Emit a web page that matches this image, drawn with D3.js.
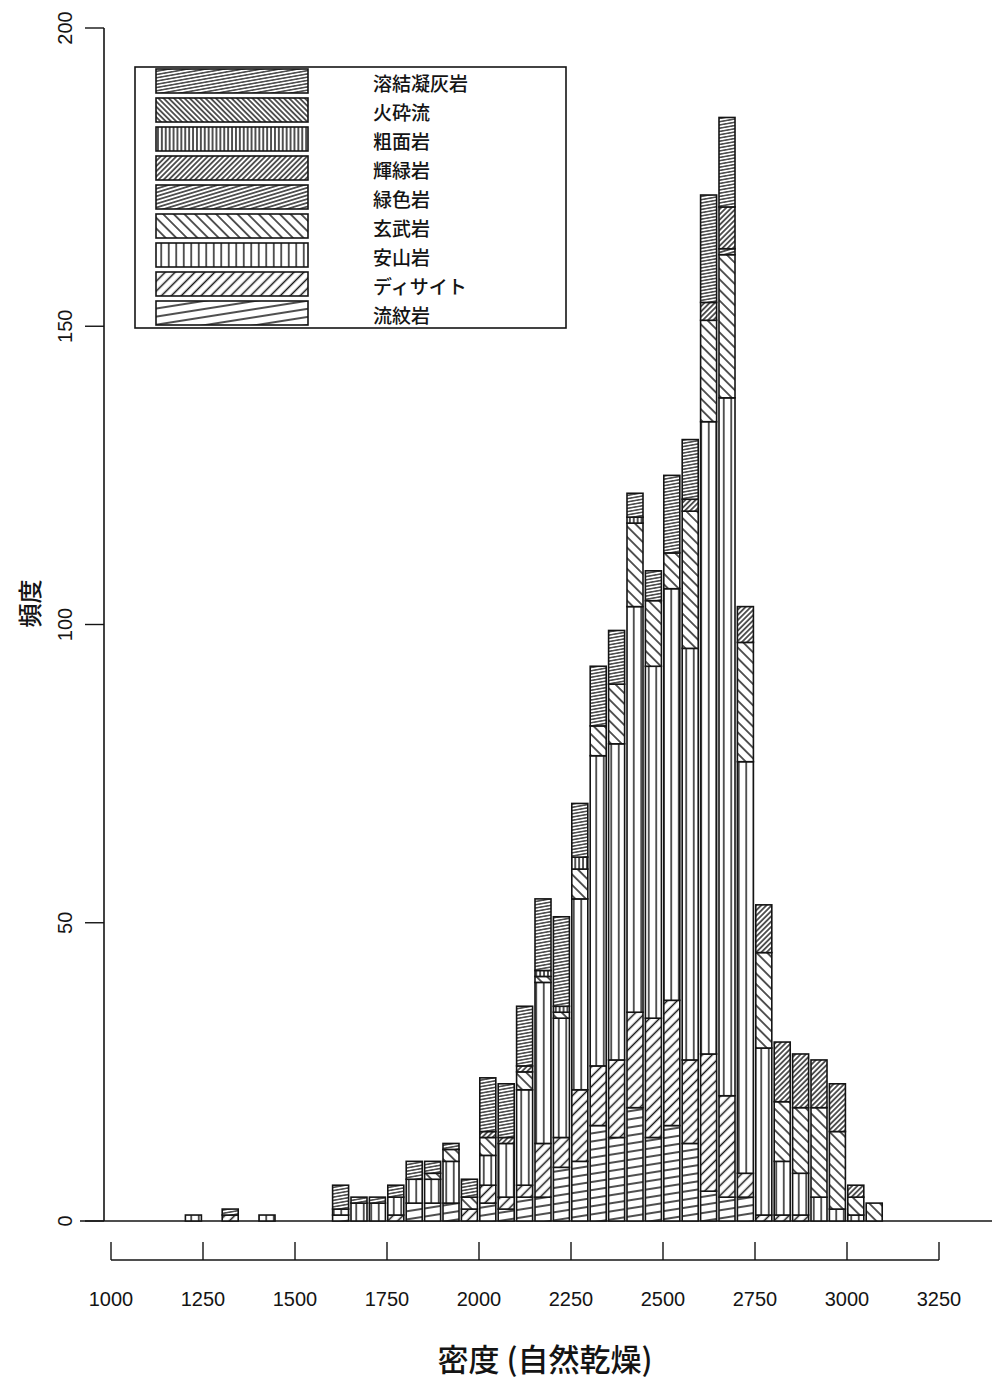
<!DOCTYPE html>
<html>
<head>
<meta charset="utf-8">
<script src="https://cdn.jsdelivr.net/npm/d3@7"></script>
<style>
  body { margin: 0; background: #fff; }
  svg { display: block; }
</style>
</head>
<body>
<svg id="chart" width="992" height="1379"></svg>
<script>
// Density classes (start of each 50 kg/m3 bin)
const binStarts = [1200,1250,1300,1350,1400,1450,1500,1550,
                   1600,1650,1700,1750,1800,1850,1900,1950,
                   2000,2050,2100,2150,2200,2250,2300,2350,
                   2400,2450,2500,2550,2600,2650,2700,2750,
                   2800,2850,2900,2950,3000,3050];

// Rock types, in stacking order (bottom to top)
const rockTypes = ["流紋岩","ディサイト","安山岩","玄武岩","緑色岩","輝緑岩","粗面岩","火砕流","溶結凝灰岩"];

// Counts per bin for each rock type
const rhyolite   = [0,0,0,0,0,0,0,0, 1,0,0,0,3,3,3,0, 3,2,4,4,9,10,16,14, 19,14,16,13,5,4,4,0, 0,0,0,0,0,0];
const dacite     = [0,0,1,0,0,0,0,0, 0,0,0,1,0,0,0,2, 3,2,2,9,5,12,10,13, 16,20,21,14,23,17,4,1, 1,1,0,0,0,0];
const andesite   = [1,0,0,0,1,0,0,0, 1,3,3,3,4,4,7,0, 5,9,16,27,20,32,52,53, 68,59,69,69,106,117,69,28, 9,7,4,2,1,0];
const basalt     = [0,0,0,0,0,0,0,0, 0,0,0,0,0,1,2,2, 3,0,3,1,1,5,5,10, 14,11,6,23,17,24,20,16, 10,11,15,13,3,3];
const greenstone = [0,0,0,0,0,0,0,0, 0,0,0,0,0,0,0,0, 0,0,0,0,0,0,0,0, 0,0,0,0,0,1,0,0, 0,0,0,0,0,0];
const diabase    = [0,0,0,0,0,0,0,0, 0,0,0,0,0,0,0,0, 1,1,1,0,0,0,0,0, 0,0,0,2,3,7,6,8, 10,9,8,8,2,0];
const trachyte   = [0,0,0,0,0,0,0,0, 0,0,0,0,0,0,0,0, 0,0,0,1,1,2,0,0, 1,0,0,0,0,0,0,0, 0,0,0,0,0,0];
const pyroclFlow = [0,0,0,0,0,0,0,0, 0,0,0,0,0,0,0,0, 0,0,0,0,0,0,0,0, 0,0,0,0,0,0,0,0, 0,0,0,0,0,0];
const weldedTuff = [0,0,1,0,0,0,0,0, 4,1,1,2,3,2,1,3, 9,9,10,12,15,9,10,9, 4,5,13,10,18,15,0,0, 0,0,0,0,0,0];

const seriesValues = [rhyolite, dacite, andesite, basalt, greenstone, diabase, trachyte, pyroclFlow, weldedTuff];

// Axis ticks
const xTicks = [1000,1250,1500,1750,2000,2250,2500,2750,3000,3250];
const yTicks = [0,50,100,150,200];

// Hatch style per rock type: angle (deg, counter-clockwise) and line spacing (px)
const hatchAngle   = [9, 45, 90, 135, 17, 45, 90, 135, 10];
const hatchSpacing = [8, 7, 7.5, 7.5, 3.6, 3.7, 3.9, 3.7, 3.2];

const INK = "#141414";
const svg = d3.select("#chart");

const x = d3.scaleLinear().domain([1000, 3250]).range([111, 939]);
const y = d3.scaleLinear().domain([0, 200]).range([1221, 28]);

// Hatch patterns
const defs = svg.append("defs");
rockTypes.forEach((r, i) => {
  const s = hatchSpacing[i];
  const p = defs.append("pattern")
    .attr("id", "hatch" + i)
    .attr("patternUnits", "userSpaceOnUse")
    .attr("width", 40)
    .attr("height", s)
    .attr("patternTransform", `rotate(${-hatchAngle[i]})`);
  p.append("rect").attr("width", 40).attr("height", s).attr("fill", "#fff");
  p.append("line")
    .attr("x1", 0).attr("x2", 40)
    .attr("y1", s / 2).attr("y2", s / 2)
    .attr("stroke", INK).attr("stroke-width", 1.3);
});

// Stacked table
const rows = binStarts.map((b, j) => {
  const row = { bin: b };
  rockTypes.forEach((r, i) => { row[r] = seriesValues[i][j]; });
  return row;
});
const stacked = d3.stack().keys(rockTypes)(rows);

const binPx = x(1050) - x(1000);
const barW = binPx * 0.87;

// Zero line
svg.append("line")
  .attr("x1", 80).attr("x2", 992)
  .attr("y1", y(0)).attr("y2", y(0))
  .attr("stroke", INK).attr("stroke-width", 1.6);

// Bars
const layers = svg.append("g").selectAll("g")
  .data(stacked).join("g");
layers.each(function(layer, i) {
  d3.select(this).selectAll("rect")
    .data(layer.filter(d => d[1] - d[0] > 0))
    .join("rect")
    .attr("x", d => x(d.data.bin) + 0.8)
    .attr("width", barW)
    .attr("y", d => y(d[1]))
    .attr("height", d => y(d[0]) - y(d[1]))
    .attr("fill", `url(#hatch${i})`)
    .attr("stroke", INK)
    .attr("stroke-width", 1.6);
});

// Y axis
const yAxis = svg.append("g");
yAxis.append("line")
  .attr("x1", 104).attr("x2", 104)
  .attr("y1", y(0)).attr("y2", y(200))
  .attr("stroke", INK).attr("stroke-width", 1.6);
yAxis.selectAll("line.tick").data(yTicks).join("line")
  .attr("class", "tick")
  .attr("x1", 85).attr("x2", 104)
  .attr("y1", d => y(d)).attr("y2", d => y(d))
  .attr("stroke", INK).attr("stroke-width", 1.4);
yAxis.selectAll("text").data(yTicks).join("text")
  .attr("transform", d => `translate(72,${y(d)}) rotate(-90)`)
  .attr("text-anchor", "middle")
  .attr("font-family", "'Liberation Sans', Arial, sans-serif")
  .attr("font-size", 20)
  .attr("fill", INK)
  .text(d => d);

svg.append("text")
  .attr("transform", `translate(39,${y(100) - 21}) rotate(-90)`)
  .attr("text-anchor", "middle")
  .attr("font-family", "'Noto Sans CJK JP', sans-serif")
  .attr("font-size", 24)
  .attr("font-weight", 500)
  .attr("fill", INK)
  .text("頻度");

// X axis (drawn below the bars, ticks pointing up)
const axisY = 1260;
const xAxis = svg.append("g");
xAxis.append("line")
  .attr("x1", x(1000)).attr("x2", x(3250))
  .attr("y1", axisY).attr("y2", axisY)
  .attr("stroke", INK).attr("stroke-width", 1.6);
xAxis.selectAll("line.tick").data(xTicks).join("line")
  .attr("class", "tick")
  .attr("x1", d => x(d)).attr("x2", d => x(d))
  .attr("y1", axisY).attr("y2", axisY - 18)
  .attr("stroke", INK).attr("stroke-width", 1.4);
xAxis.selectAll("text").data(xTicks).join("text")
  .attr("x", d => x(d))
  .attr("y", 1306)
  .attr("text-anchor", "middle")
  .attr("font-family", "'Liberation Sans', Arial, sans-serif")
  .attr("font-size", 20)
  .attr("fill", INK)
  .text(d => d);

svg.append("text")
  .attr("x", 545).attr("y", 1371)
  .attr("text-anchor", "middle")
  .attr("font-family", "'Noto Sans CJK JP', sans-serif")
  .attr("font-size", 31)
  .attr("font-weight", 500)
  .attr("fill", INK)
  .text("密度 (自然乾燥)");

// Legend
const legend = svg.append("g");
legend.append("rect")
  .attr("x", 135).attr("y", 67)
  .attr("width", 431).attr("height", 261)
  .attr("fill", "#fff")
  .attr("stroke", INK).attr("stroke-width", 1.6);
const legendOrder = rockTypes.map((r, i) => i).reverse();
const rowsG = legend.selectAll("g.item").data(legendOrder).join("g")
  .attr("class", "item")
  .attr("transform", (d, k) => `translate(0,${81 + k * 29})`);
rowsG.append("rect")
  .attr("x", 156).attr("y", -12)
  .attr("width", 152).attr("height", 24)
  .attr("fill", d => `url(#hatch${d})`)
  .attr("stroke", INK).attr("stroke-width", 1.6);
rowsG.append("text")
  .attr("x", 373).attr("y", 10)
  .attr("font-family", "'Noto Sans CJK JP', sans-serif")
  .attr("font-size", 19)
  .attr("font-weight", 500)
  .attr("fill", INK)
  .text(d => rockTypes[d]);
</script>
</body>
</html>
